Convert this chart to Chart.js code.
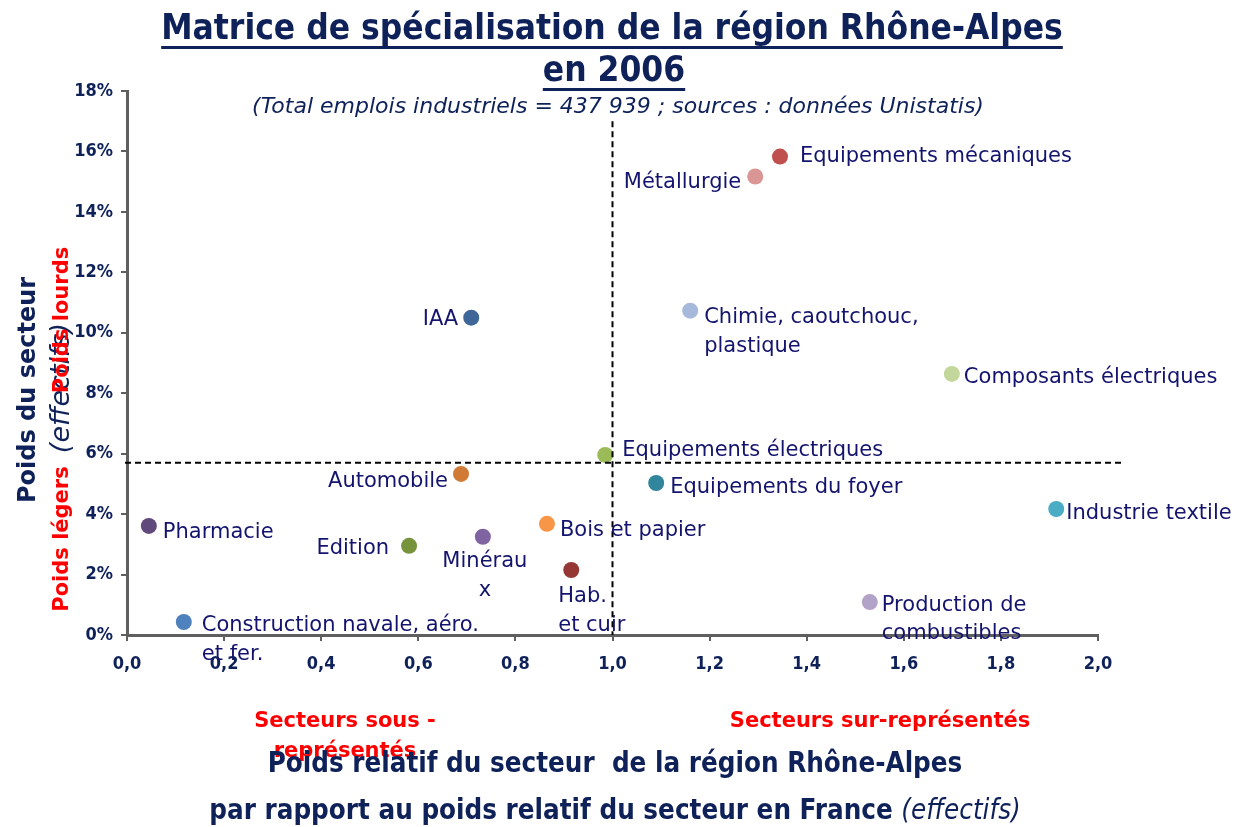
<!DOCTYPE html>
<html>
<head>
<meta charset="utf-8">
<script src="https://cdn.jsdelivr.net/npm/chart.js@4"></script>
<style>
  html, body { margin: 0; padding: 0; background: #fff; }
  #wrap { width: 1236px; height: 827px; }
</style>
</head>
<body>
<div id="wrap"><canvas id="matrice"></canvas></div>
<script>
// secteurs industriels
const secteurs = [
  'Equipements mécaniques', 'Métallurgie', 'IAA', 'Chimie, caoutchouc,\nplastique',
  'Composants électriques', 'Equipements électriques', 'Automobile', 'Equipements du foyer',
  'Industrie textile', 'Pharmacie', 'Bois et papier', 'Edition',
  'Minérau\nx', 'Hab.\net cuir', 'Production de\ncombustibles', 'Construction navale, aéro.\net fer.'
];
// poids relatif (région / France)
const poidsRelatif = [1.345, 1.294, 0.709, 1.160, 1.699, 0.985, 0.688, 1.090,
  1.914, 0.045, 0.865, 0.581, 0.733, 0.915, 1.530, 0.117];
// poids du secteur dans l'emploi industriel régional (%)
const poidsSecteur = [15.83, 15.17, 10.50, 10.73, 8.64, 5.96, 5.33, 5.03,
  4.17, 3.61, 3.68, 2.95, 3.25, 2.15, 1.09, 0.43];
// moyennes (lignes de séparation)
const moyenneX = 1.0;
const moyenneY = 5.7;
const xTickLabels = ['0,0', '0,2', '0,4', '0,6', '0,8', '1,0', '1,2', '1,4', '1,6', '1,8', '2,0'];
const yTickLabels = ['0%', '2%', '4%', '6%', '8%', '10%', '12%', '14%', '16%', '18%'];

const couleurs = ['#C0504D', '#D99694', '#3F6699', '#A7B9DA', '#C3D69B', '#9BBB59', '#D07A35', '#31859C',
  '#4BACC6', '#604A7B', '#F79646', '#77933C', '#8064A2', '#953735', '#B3A2C7', '#4F81BD'];

// placement des étiquettes : côté + décalage (px)
const placement = [
  ['right', 20, 0], ['left', -14, 6], ['left', -13, 2], ['right', 14, 7],
  ['right', 12, 4], ['right', 17, -4], ['left', -13, 8], ['right', 14, 5],
  ['right', 10, 5], ['right', 14, 7], ['right', 13, 7], ['left', -20, 3],
  ['center', 2, 25], ['right', -13, 27], ['right', 12, 3], ['right', 18, 4]
];

const NAVY = '#0E2159';
const LABEL = '#14146E';
const RED = '#FF0000';
const F = '"DejaVu Sans"';
const FC = '"DejaVu Sans Condensed", "DejaVu Sans"';

function texte(ctx, str, x, y, font, color, align, rot) {
  ctx.save();
  ctx.font = font;
  ctx.fillStyle = color;
  ctx.textAlign = align || 'center';
  ctx.textBaseline = 'middle';
  ctx.translate(x, y);
  if (rot) ctx.rotate(rot);
  ctx.fillText(str, 0, 0);
  ctx.restore();
}

const decor = {
  id: 'decor',
  afterDatasetsDraw(chart) {
    const ctx = chart.ctx, xs = chart.scales.x, ys = chart.scales.y;
    ctx.save();
    ctx.strokeStyle = '#000';
    ctx.lineWidth = 2;
    ctx.setLineDash([6, 4]);
    const px = xs.getPixelForValue(moyenneX);
    ctx.beginPath();
    ctx.moveTo(px, ys.getPixelForValue(17));
    ctx.lineTo(px, ys.getPixelForValue(0));
    ctx.stroke();
    const py = ys.getPixelForValue(moyenneY);
    ctx.beginPath();
    ctx.moveTo(chart.chartArea.left - 2, py);
    ctx.lineTo(chart.chartArea.right + 24, py);
    ctx.stroke();
    ctx.restore();
  },
  afterDraw(chart) {
    const ctx = chart.ctx;
    const meta = chart.getDatasetMeta(0);
    // étiquettes des points
    meta.data.forEach((pt, i) => {
      const [side, dx, dy] = placement[i];
      const lines = secteurs[i].split('\n');
      const align = side === 'left' ? 'right' : (side === 'center' ? 'center' : 'left');
      lines.forEach((l, k) => {
        texte(ctx, l, pt.x + dx, pt.y + dy + k * 28.5, '21px ' + F, LABEL, align);
      });
    });

    // titre
    ctx.save();
    const t1 = 'Matrice de spécialisation de la région Rhône-Alpes';
    const t2 = 'en 2006';
    const tf = 'bold 35px ' + FC;
    ctx.font = tf;
    const w1 = ctx.measureText(t1).width, w2 = ctx.measureText(t2).width;
    texte(ctx, t1, 612, 30, tf, NAVY);
    texte(ctx, t2, 614, 72, tf, NAVY);
    ctx.fillStyle = NAVY;
    ctx.fillRect(612 - w1 / 2, 46, w1, 3);
    ctx.fillRect(614 - w2 / 2, 88, w2, 3);
    ctx.restore();
    texte(ctx, '(Total emplois industriels = 437 939 ; sources : données Unistatis)', 618, 107,
      'italic 22px ' + F, NAVY);

    // titre axe Y
    const rot = -Math.PI / 2;
    texte(ctx, 'Poids du secteur', 29, 390, 'bold 24px ' + F, NAVY, 'center', rot);
    texte(ctx, '(effectifs)', 62, 388, 'italic 27px ' + F, NAVY, 'center', rot);
    texte(ctx, 'Poids lourds', 63, 320, 'bold 21px ' + F, RED, 'center', rot);
    texte(ctx, 'Poids légers', 63, 539, 'bold 21px ' + F, RED, 'center', rot);

    // titre axe X
    texte(ctx, 'Secteurs sous -', 345, 722, 'bold 21px ' + F, RED);
    texte(ctx, 'représentés', 345, 752, 'bold 21px ' + F, RED);
    texte(ctx, 'Secteurs sur-représentés', 880, 722, 'bold 21px ' + F, RED);
    texte(ctx, 'Poids relatif du secteur  de la région Rhône-Alpes', 615, 765, 'bold 27.5px ' + FC, NAVY);
    ctx.save();
    const b1 = 'par rapport au poids relatif du secteur en France ';
    const b2 = '(effectifs)';
    ctx.font = 'bold 27.5px ' + FC;
    const wb1 = ctx.measureText(b1).width;
    ctx.font = 'italic 27.5px ' + FC;
    const wb2 = ctx.measureText(b2).width;
    const x0 = 615 - (wb1 + wb2) / 2;
    ctx.restore();
    texte(ctx, b1, x0, 812, 'bold 27.5px ' + FC, NAVY, 'left');
    texte(ctx, b2, x0 + wb1, 812, 'italic 27.5px ' + FC, NAVY, 'left');
  }
};

new Chart(document.getElementById('matrice'), {
  type: 'scatter',
  data: {
    datasets: [{
      label: 'Secteurs',
      data: poidsRelatif.map((x, i) => ({ x: x, y: poidsSecteur[i] })),
      backgroundColor: couleurs,
      borderWidth: 0,
      pointRadius: 8,
      pointHoverRadius: 8
    }]
  },
  options: {
    responsive: true,
    maintainAspectRatio: false,
    animation: false,
    events: [],
    layout: { padding: { left: 0, top: 91, right: 138, bottom: 152 } },
    plugins: { legend: { display: false }, tooltip: { enabled: false } },
    scales: {
      x: {
        type: 'linear', min: 0, max: 2,
        afterFit(s) { s.height = 40; },
        border: { color: '#5F5F5F', width: 3 },
        grid: { drawOnChartArea: false, color: '#5F5F5F', tickLength: 6, lineWidth: 2 },
        ticks: {
          stepSize: 0.2, padding: 13, color: NAVY,
          font: { family: 'DejaVu Sans Condensed, DejaVu Sans', size: 18, weight: 'bold' },
          callback: (v, i) => xTickLabels[i]
        }
      },
      y: {
        min: 0, max: 18,
        afterFit(s) { s.width = 127; },
        border: { color: '#5F5F5F', width: 3 },
        grid: { drawOnChartArea: false, color: '#5F5F5F', tickLength: 6, lineWidth: 2 },
        ticks: {
          stepSize: 2, padding: 8, color: NAVY,
          font: { family: 'DejaVu Sans Condensed, DejaVu Sans', size: 18, weight: 'bold' },
          callback: (v, i) => yTickLabels[i]
        }
      }
    }
  },
  plugins: [decor]
});
</script>
</body>
</html>
